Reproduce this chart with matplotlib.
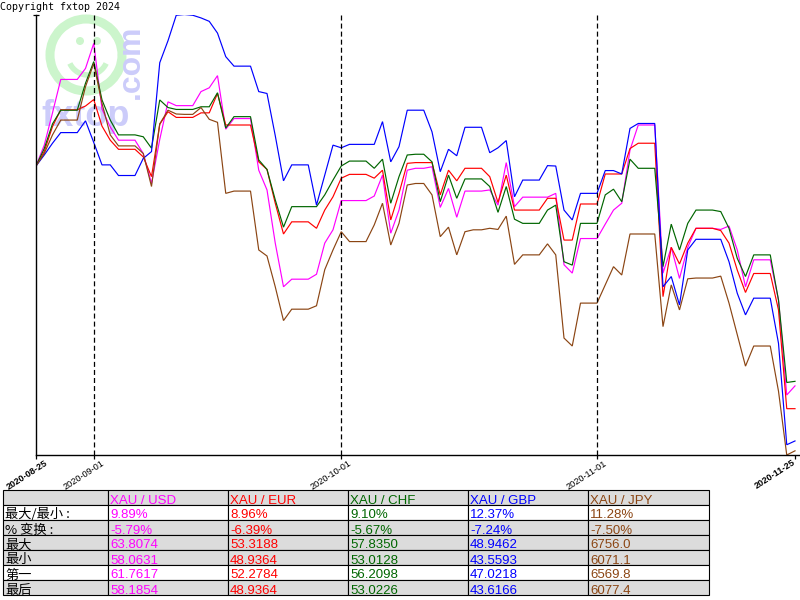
import numpy as np
import pandas as pd
import matplotlib
matplotlib.use('Agg')
import matplotlib.pyplot as plt
import matplotlib.dates as mdates
from matplotlib.patches import Rectangle, Arc, Circle
from matplotlib.transforms import ScaledTranslation, blended_transform_factory

plt.rcParams['lines.scale_dashes'] = False

# ---------------- data (percent change vs. first day) ----------------
dates = pd.date_range('2020-08-25', '2020-11-25', freq='D')

usd = [0.00, 0.55, 1.40, 2.28, 2.28, 2.28, 2.57, 3.23, 1.50, 1.03,
       0.68, 0.68, 0.68, 0.33, -0.46, 0.70, 1.69, 1.59, 1.59, 1.59,
       1.96, 2.06, 2.38, 0.97, 1.25, 1.25, 1.25, -0.11, -0.63, -2.03,
       -3.18, -2.98, -2.98, -2.98, -2.85, -2.03, -1.68, -0.91, -0.91, -0.91,
       -0.91, -0.79, -0.24, -1.77, -1.16, -0.11, -0.06, -0.06, -0.02, -1.09,
       -0.59, -1.35, -0.66, -0.66, -0.66, -0.63, -1.03, 0.09, -1.07, -0.82,
       -0.82, -0.82, -0.82, -0.72, -2.60, -2.82, -1.91, -1.91, -1.91, -1.53,
       -1.16, -0.98, 0.42, 1.08, 1.08, 1.08, -2.82, -2.14, -2.96, -2.14,
       -1.64, -1.64, -1.64, -1.67, -1.58, -2.21, -3.18, -2.47, -2.47, -2.47,
       -3.53, -6.03, -5.79]
eur = [0.00, 0.38, 1.04, 1.48, 1.48, 1.48, 1.58, 1.75, 1.05, 0.68,
       0.44, 0.44, 0.44, 0.24, -0.28, 1.10, 1.43, 1.28, 1.28, 1.28,
       1.40, 1.40, 1.91, 1.08, 1.08, 1.08, 1.08, 0.11, -0.09, -0.98,
       -1.79, -1.47, -1.47, -1.47, -1.64, -1.16, -0.81, -0.32, -0.22, -0.22,
       -0.22, -0.32, -0.11, -1.42, -0.72, 0.07, 0.09, 0.09, 0.09, -0.76,
       -0.11, -0.39, -0.06, -0.06, -0.06, -0.28, -0.96, -0.24, -1.16, -1.16,
       -1.16, -1.16, -0.85, -0.85, -1.95, -1.95, -1.00, -1.00, -1.00, -0.21,
       -0.21, -0.21, 0.46, 0.60, 0.60, 0.60, -3.44, -2.14, -2.58, -2.03,
       -1.64, -1.64, -1.64, -1.70, -2.03, -2.74, -3.33, -2.83, -2.83, -2.83,
       -3.79, -6.39, -6.39]
chf = [0.00, 0.46, 1.11, 1.47, 1.47, 1.47, 2.18, 2.75, 1.74, 1.21,
       0.82, 0.82, 0.82, 0.77, 0.47, 1.74, 1.54, 1.49, 1.49, 1.49,
       1.56, 1.56, 1.93, 1.00, 1.30, 1.30, 1.30, 0.16, -0.09, -0.89,
       -1.61, -1.07, -1.07, -1.07, -1.07, -0.76, -0.37, 0.00, 0.13, 0.13,
       0.13, -0.06, 0.18, -0.98, -0.28, 0.29, 0.31, 0.31, 0.11, -0.94,
       -0.24, -0.85, -0.34, -0.34, -0.34, -0.54, -1.22, -0.54, -1.40, -1.51,
       -1.51, -1.51, -1.16, -1.03, -2.52, -2.61, -1.51, -1.51, -1.51, -0.76,
       -0.61, -0.94, 0.18, -0.06, -0.06, -0.06, -2.65, -1.53, -2.21, -1.51,
       -1.16, -1.16, -1.16, -1.20, -1.64, -2.43, -2.91, -2.34, -2.34, -2.34,
       -3.53, -5.70, -5.67]
gbp = [0.00, 0.29, 0.60, 0.88, 0.88, 0.88, 1.19, 0.62, 0.03, 0.03,
       -0.25, -0.25, -0.25, 0.20, 0.38, 2.72, 3.30, 3.97, 3.99, 3.97,
       3.90, 3.81, 3.50, 2.88, 2.63, 2.63, 2.63, 1.96, 1.91, 0.80,
       -0.39, 0.03, 0.03, 0.03, -1.03, -0.24, 0.55, 0.48, 0.57, 0.57,
       0.57, 0.57, 1.17, 0.11, 0.51, 1.47, 1.47, 1.47, 0.90, -0.15,
       0.44, 0.27, 1.02, 1.02, 1.02, 0.35, 0.48, 0.67, -0.81, -0.37,
       -0.37, -0.37, 0.01, 0.00, -1.16, -1.42, -0.72, -0.72, -0.72, -0.12,
       -0.12, -0.21, 0.99, 1.12, 1.12, 1.12, -3.18, -2.91, -3.66, -2.21,
       -1.93, -1.93, -1.93, -1.93, -2.52, -3.35, -3.92, -3.48, -3.48, -3.48,
       -4.67, -7.34, -7.24]
jpy = [0.00, 0.33, 0.82, 1.21, 1.21, 1.21, 2.09, 2.70, 1.65, 0.82,
       0.53, 0.53, 0.53, 0.33, -0.54, 1.11, 1.47, 1.37, 1.36, 1.36,
       1.54, 1.23, 1.15, -0.72, -0.66, -0.66, -0.66, -2.21, -2.37, -3.18,
       -4.07, -3.77, -3.77, -3.77, -3.68, -2.73, -2.21, -1.73, -1.99, -1.99,
       -1.99, -1.55, -0.98, -2.08, -1.51, -0.50, -0.46, -0.46, -0.76, -1.86,
       -1.61, -2.34, -1.73, -1.68, -1.68, -1.64, -1.67, -1.32, -2.59, -2.34,
       -2.34, -2.34, -2.05, -2.34, -4.53, -4.74, -3.61, -3.61, -3.61, -3.13,
       -2.65, -2.87, -1.79, -1.79, -1.79, -1.79, -4.23, -3.13, -3.79, -2.97,
       -2.95, -2.95, -2.95, -2.90, -3.61, -4.44, -5.27, -4.74, -4.74, -4.74,
       -5.93, -7.61, -7.50]

series_names = ['XAU / USD', 'XAU / EUR', 'XAU / CHF', 'XAU / GBP', 'XAU / JPY']
series_colors = ['#ff00ff', '#ff0000', '#006600', '#0000ff', '#8b4513']

month_ticks = ['2020-09-01', '2020-10-01', '2020-11-01']
end_ticks = ['2020-08-25', '2020-11-25']

row_labels = ['最大/最小 :', '% 变换 :', '最大', '最小', '第一', '最后']
maxmin_pct = ['9.89%', '8.96%', '9.10%', '12.37%', '11.28%']
change_pct = ['-5.79%', '-6.39%', '-5.67%', '-7.24%', '-7.50%']
max_vals = ['63.8074', '53.3188', '57.8350', '48.9462', '6756.0']
min_vals = ['58.0631', '48.9364', '53.0128', '43.5593', '6071.1']
first_vals = ['61.7617', '52.2784', '56.2098', '47.0218', '6569.8']
last_vals = ['58.1854', '48.9364', '53.0226', '43.6166', '6077.4']

# ---------------- figure ----------------
W, H = 800, 600
fig = plt.figure(figsize=(8, 6), dpi=100)
fig.patch.set_facecolor('white')

ov = fig.add_axes([0, 0, 1, 1])
ov.set_xlim(0, W)
ov.set_ylim(H, 0)
ov.axis('off')
ov.set_zorder(0)

# watermark (fxtop logo)
wm_green = '#ccf5cc'
wm_blue = '#ccccfa'
ov.add_patch(Arc((86, 55), 72, 72, theta1=0, theta2=360, lw=6.5, color=wm_green))
ov.add_patch(Circle((80, 41), 4, color=wm_green, lw=0))
ov.add_patch(Circle((97, 41), 4, color=wm_green, lw=0))
ov.add_patch(Arc((88, 55), 40, 40, theta1=25, theta2=155, lw=4, color=wm_green))
ov.text(41, 116, 'fxtop', fontsize=26, fontweight='bold', color=wm_blue,
        family='Liberation Sans', ha='left', va='center')
ov.text(131, 62, '.com', fontsize=23, fontweight='bold', color=wm_blue,
        family='Liberation Sans', ha='center', va='center', rotation=90)

ov.text(0, 7, 'Copyright fxtop 2024', fontsize=7.2, family='DejaVu Sans Mono',
        ha='left', va='center', color='black')

# main axes
left_px, right_px, top_px, bot_px = 36, 800, 14.5, 455
ax = fig.add_axes([left_px / W, 1 - bot_px / H, (right_px - left_px) / W, (bot_px - top_px) / H])
ax.set_zorder(1)
ax.patch.set_alpha(0)

x = mdates.date2num(dates)
ndays = len(dates) - 1
ax.set_xlim(x[0], x[0] + ndays * (right_px - left_px) / 759.0)
allv = np.concatenate([usd, eur, chf, gbp, jpy])
ax.set_ylim(allv.min(), allv.max())

for vals, c in zip([usd, eur, chf, gbp, jpy], series_colors):
    ax.plot(x, vals, color=c, lw=0.85, solid_joinstyle='miter')

for d in month_ticks:
    ax.axvline(mdates.date2num(pd.Timestamp(d)), color='black', lw=0.9,
               ls=(0, (3.6, 2.2)))

for s in ['top', 'right']:
    ax.spines[s].set_visible(False)
for s in ['left', 'bottom']:
    ax.spines[s].set_linewidth(1.0)
    ax.spines[s].set_color('black')

tick_dates = [end_ticks[0]] + month_ticks + [end_ticks[1]]
tick_x = [mdates.date2num(pd.Timestamp(d)) for d in tick_dates]
ax.set_xticks(tick_x)
ax.set_xticklabels([])
ax.tick_params(axis='x', direction='out', length=3, width=0.9)
ax.set_yticks([allv.max()])
ax.set_yticklabels([])
ax.tick_params(axis='y', direction='inout', length=5, width=0.9)

btf = blended_transform_factory(ax.transData, ax.transAxes)
for d, xv in zip(tick_dates, tick_x):
    bold = d in end_ticks
    if d == end_ticks[1]:
        dx, dy = -3, 3
    elif bold:
        dx, dy = 8, 3
    else:
        dx, dy = 7, 4
    tr = btf + ScaledTranslation(dx / 100, -dy / 100, fig.dpi_scale_trans)
    ax.text(xv, 0, d, transform=tr, rotation=33, ha='right', va='top',
            rotation_mode='anchor', fontsize=6.6, family='Liberation Sans',
            fontweight='bold' if bold else 'normal', color='black')

# ---------------- table ----------------
col_edges = [3, 108, 228, 348, 468, 588, 709]
row_top = 490
row_h = 15
gray = '#dcdcdc'
row_bg = [gray, 'white', gray, gray, gray, 'white', gray]
table_rows = [maxmin_pct, change_pct, max_vals, min_vals, first_vals, last_vals]

for r in range(7):
    y0 = row_top + r * row_h
    for c in range(6):
        x0 = col_edges[c]
        ov.add_patch(Rectangle((x0, y0), col_edges[c + 1] - x0, row_h,
                               facecolor=row_bg[r], edgecolor='black', lw=0.8))
    base = y0 + row_h - 1.5
    if r == 0:
        for c, (name, colr) in enumerate(zip(series_names, series_colors)):
            ov.text(col_edges[c + 1] + 2, base, name, color=colr, fontsize=9.5,
                    family='Liberation Sans', ha='left', va='baseline')
    else:
        ov.text(col_edges[0] + 2, base, row_labels[r - 1], color='black', fontsize=9.5,
                family=['Noto Sans CJK SC', 'DejaVu Sans'], ha='left', va='baseline')
        for c, colr in enumerate(series_colors):
            ov.text(col_edges[c + 1] + 2, base, table_rows[r - 1][c], color=colr,
                    fontsize=9.5, family='Liberation Sans', ha='left', va='baseline')

fig.savefig('out.png', dpi=100)
